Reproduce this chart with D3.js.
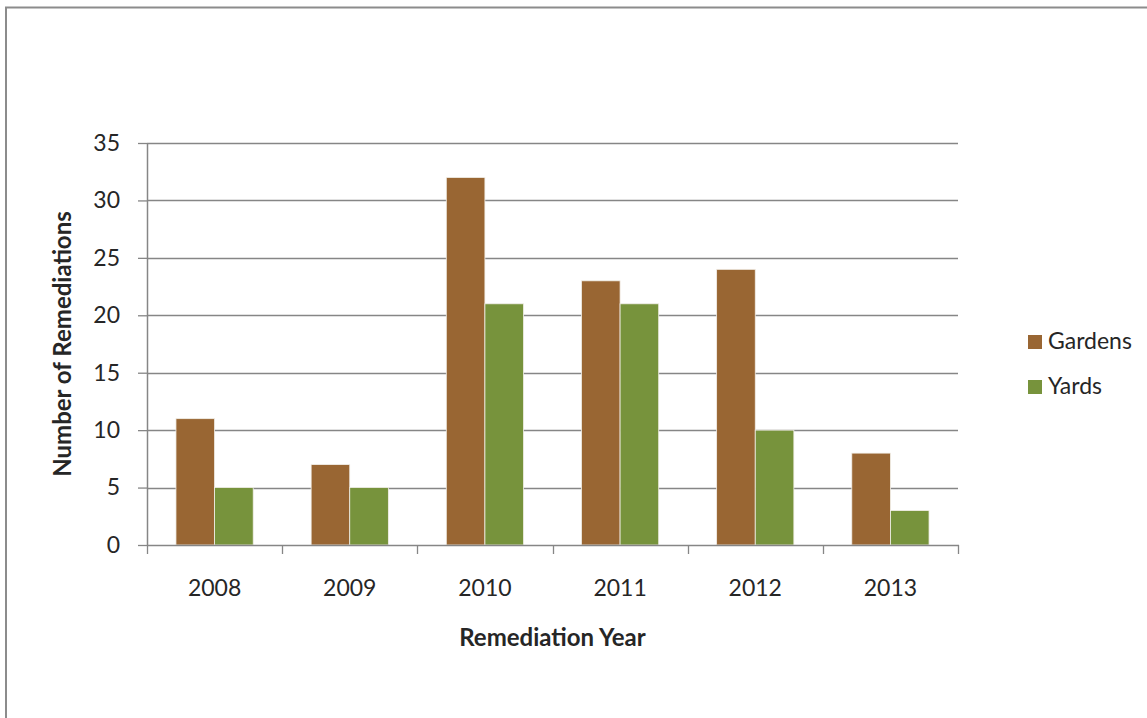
<!DOCTYPE html>
<html>
<head>
<meta charset="utf-8">
<script src="https://cdn.jsdelivr.net/npm/d3@7"></script>
<style>
  body { margin: 0; background: #fff; }
  svg text { font-family: Lato, "Open Sans", sans-serif; fill: #262626; }
</style>
</head>
<body>
<svg></svg>
<script>
var width = 1147;
var height = 718;

// chart data
var years = ["2008", "2009", "2010", "2011", "2012", "2013"];
var gardens = [11, 7, 32, 23, 24, 8];
var yards = [5, 5, 21, 21, 10, 3];
var seriesNames = ["Gardens", "Yards"];
var yTicks = [0, 5, 10, 15, 20, 25, 30, 35];

var color = ['#996633', '#77933c'];
var axisColor = '#868686';

var svg = d3.select("svg")
  .attr('width', width)
  .attr('height', height);

// outer frame, runs past the right and bottom edges
svg.append('rect')
  .attr('x', 6).attr('y', 7.5)
  .attr('width', 1160).attr('height', 730)
  .attr('fill', 'none')
  .attr('stroke', '#8c8c8c')
  .attr('stroke-width', 2);

var plotLeft = 147, plotRight = 958, plotTop = 143, plotBottom = 545;

var x = d3.scaleBand()
  .domain(years)
  .range([plotLeft, plotRight])
  .paddingInner(1.5 / 3.5)
  .paddingOuter(0.75 / 3.5);

var x1 = d3.scaleBand()
  .domain(seriesNames)
  .range([0, x.bandwidth()]);

var y = d3.scaleLinear()
  .domain([0, 35])
  .range([plotBottom, plotTop]);

// gridlines
svg.append('g')
  .selectAll('line')
  .data(yTicks.slice(1))
  .enter().append('line')
  .attr('x1', plotLeft).attr('x2', plotRight)
  .attr('y1', function(d) { return Math.round(y(d)) + 0.5; })
  .attr('y2', function(d) { return Math.round(y(d)) + 0.5; })
  .attr('stroke', axisColor)
  .attr('stroke-width', 1.3);

// bars
var rows = years.map(function(yr, i) { return {year: yr, values: [gardens[i], yards[i]]}; });

svg.append('g')
  .selectAll('g')
  .data(rows)
  .enter().append('g')
  .attr('transform', function(d) { return 'translate(' + x(d.year) + ',0)'; })
  .selectAll('rect')
  .data(function(d) { return d.values.map(function(v, j) { return {name: seriesNames[j], value: v, k: j}; }); })
  .enter().append('rect')
  .attr('x', function(d) { return x1(d.name); })
  .attr('width', x1.bandwidth())
  .attr('y', function(d) { return y(d.value); })
  .attr('height', function(d) { return plotBottom - y(d.value); })
  .attr('fill', function(d) { return color[d.k]; })
  .attr('stroke', '#f2efe9')
  .attr('stroke-width', 0.8);

// y axis
var yAxis = svg.append('g')
  .attr('transform', 'translate(' + plotLeft + ',0)')
  .call(d3.axisLeft(y).tickValues(yTicks).tickSize(9).tickPadding(18));
yAxis.selectAll('.domain').attr('stroke', axisColor).attr('stroke-width', 1.5).attr('d', 'M0.5,' + plotTop + 'V' + plotBottom);
yAxis.selectAll('.tick line').attr('stroke', axisColor).attr('stroke-width', 1.3);
yAxis.selectAll('text').style('font-size', '23px').attr('fill', '#262626').attr('font-family', null);

// x axis, ticks on band edges
var xAxis = svg.append('g')
  .attr('transform', 'translate(0,' + plotBottom + ')');
xAxis.append('line')
  .attr('x1', plotLeft).attr('x2', plotRight + 1)
  .attr('y1', 0.5).attr('y2', 0.5)
  .attr('stroke', axisColor).attr('stroke-width', 1.5);
var edges = years.map(function(d) { return x(d) - (x.step() - x.bandwidth()) / 2; }).concat([plotRight]);
xAxis.selectAll('.edge')
  .data(edges)
  .enter().append('line')
  .attr('x1', function(d) { return Math.round(d) + 0.5; })
  .attr('x2', function(d) { return Math.round(d) + 0.5; })
  .attr('y1', 0).attr('y2', 9)
  .attr('stroke', axisColor).attr('stroke-width', 1.3);
xAxis.selectAll('.lbl')
  .data(years)
  .enter().append('text')
  .attr('x', function(d) { return x(d) + x.bandwidth() / 2; })
  .attr('y', 51)
  .attr('text-anchor', 'middle')
  .style('font-size', '23px')
  .text(function(d) { return d; });

// axis titles
svg.append('text')
  .attr('x', (plotLeft + plotRight) / 2)
  .attr('y', 646)
  .attr('text-anchor', 'middle')
  .style('font-size', '24px')
  .style('font-weight', 'bold')
  .text('Remediation Year');

svg.append('text')
  .attr('transform', 'translate(71,' + (plotTop + plotBottom) / 2 + ') rotate(-90)')
  .attr('text-anchor', 'middle')
  .style('font-size', '24px')
  .style('font-weight', 'bold')
  .text('Number of Remediations');

// legend
var legend = svg.append('g')
  .selectAll('g')
  .data(seriesNames)
  .enter().append('g')
  .attr('transform', function(d, i) { return 'translate(1028,' + (335 + i * 45) + ')'; });
legend.append('rect')
  .attr('width', 14).attr('height', 14)
  .attr('fill', function(d, i) { return color[i]; });
legend.append('text')
  .attr('x', 20).attr('y', 14)
  .style('font-size', '23px')
  .text(function(d) { return d; });
</script>
</body>
</html>
